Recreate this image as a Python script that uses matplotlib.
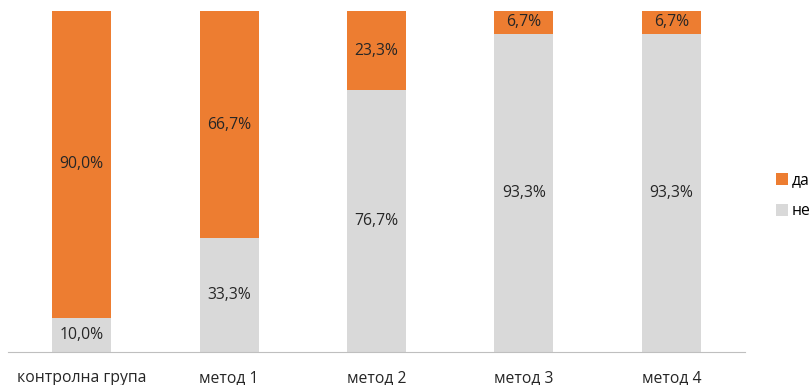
import numpy as np
import matplotlib.pyplot as plt

categories = ["контролна група", "метод 1", "метод 2", "метод 3", "метод 4"]
ne = np.array([10.0, 33.3, 76.7, 93.3, 93.3])
da = np.array([90.0, 66.7, 23.3, 6.7, 6.7])

orange = "#ED7D31"
grey = "#D9D9D9"

plt.rcParams["font.family"] = ["Open Sans", "DejaVu Sans"]

fig = plt.figure(figsize=(8.11, 3.85), dpi=100)
ax = fig.add_axes([8 / 811, 33 / 385, 737 / 811, 341 / 385])

x = np.arange(len(categories))
w = 0.4
b1 = ax.bar(x, ne, w, color=grey, label="не")
b2 = ax.bar(x, da, w, bottom=ne, color=orange, label="да")

for i in range(len(x)):
    ax.text(x[i], ne[i] / 2, f"{ne[i]:.1f}%".replace(".", ","),
            ha="center", va="center", fontsize=11.3, color="#262626")
    ax.text(x[i], ne[i] + da[i] / 2, f"{da[i]:.1f}%".replace(".", ","),
            ha="center", va="center", fontsize=11.3, color="#262626")

ax.set_xlim(-0.5, len(x) - 0.5)
ax.set_ylim(0, 100)
ax.set_xticks(x)
ax.set_xticklabels(categories, fontsize=11.3, color="#262626")
ax.tick_params(axis="x", length=0, pad=13)
ax.set_yticks([])
for s in ["top", "right", "left"]:
    ax.spines[s].set_visible(False)
ax.spines["bottom"].set_color("#BFBFBF")

# legend, partly cut off at the right edge like the original
fig.legend(handles=[b2, b1], labels=["да", "не"], loc="center left",
           bbox_to_anchor=(762 / 811, 1 - 196 / 385), frameon=False,
           fontsize=11.3, handlelength=0.75, handleheight=0.75,
           handletextpad=0.25, labelspacing=0.95)

fig.savefig("out.png", dpi=100)
